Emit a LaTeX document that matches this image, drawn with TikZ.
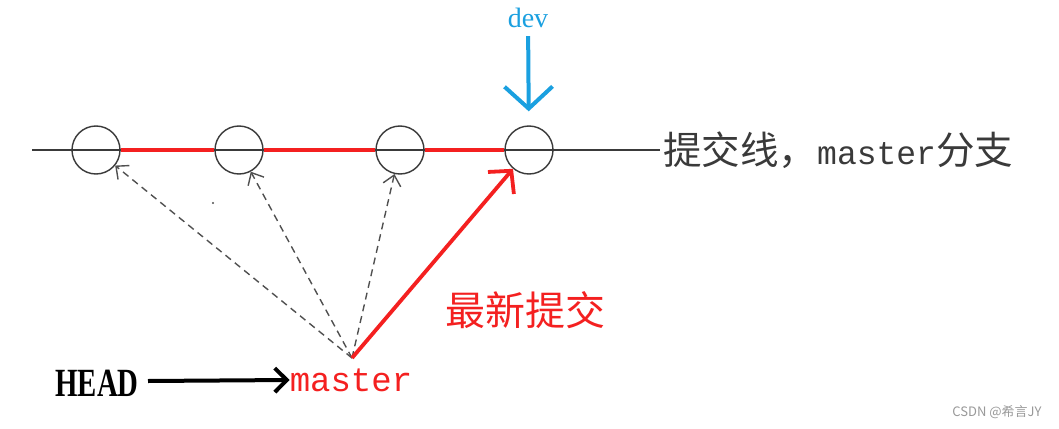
\documentclass[tikz,border=0pt]{standalone}
\usepackage{fontspec}
\setmainfont{Liberation Serif}
\newfontfamily\cjk{Noto Sans CJK SC}
\newfontfamily\monof{Liberation Mono}
\usetikzlibrary{arrows.meta}
\definecolor{devblue}{HTML}{1AA0E0}
\definecolor{linegray}{HTML}{3A3A3A}
\definecolor{dashgray}{HTML}{505050}
\definecolor{myred}{HTML}{F42020}
\begin{document}
\begin{tikzpicture}[x=1pt,y=-1pt,
  commit/.style={circle,draw=linegray,line width=1.4pt,minimum size=48pt,inner sep=0pt},
  redseg/.style={myred,line width=3.6pt},
  dasharrow/.style={dashgray,line width=1.4pt,dash pattern=on 7pt off 5pt,
     -{Straight Barb[length=10pt,width=18pt]}},
  redarrow/.style={myred,line width=3.8pt,-{Straight Barb[length=16pt,width=34pt]}},
  headarrow/.style={black,line width=4pt,-{Straight Barb[length=12pt,width=24pt]}},
  devarrow/.style={devblue,line width=4pt,-{Straight Barb[length=22pt,width=48pt]}}
]
\useasboundingbox (0,0) rectangle (1059,428);
\fill[white] (0,0) rectangle (1059,428);

% commit line
\coordinate (L) at (32,150);
\coordinate (R) at (660,150);
\draw[linegray,line width=1.6pt] (L) -- (R);

\node[commit] (c1) at (96,150) {};
\node[commit] (c2) at (239,150) {};
\node[commit] (c3) at (400,150) {};
\node[commit] (c4) at (529,150) {};

\draw[redseg] (c1.east) -- (c2.west);
\draw[redseg] (c2.east) -- (c3.west);
\draw[redseg] (c3.east) -- (c4.west);

\node[anchor=west,inner sep=0pt,text=linegray] (lbl) at ([xshift=3pt]R)
  {{\cjk\fontsize{38.5}{42}\selectfont 提交线，}{\monof\fontsize{33}{36}\selectfont master}{\cjk\fontsize{38.5}{42}\selectfont 分支}};

% dev
\node[text=devblue,inner sep=0pt,font=\fontsize{28}{32}\selectfont] (dev) at (528,18) {dev};
\draw[devarrow,shorten <=8pt,shorten >=14pt] (dev) -- (c4);

% master and HEAD
\node[text=myred,inner sep=0pt,font=\monof\fontsize{34}{38}\selectfont] (master) at (351,380) {master};
\node[inner sep=0pt,font=\bfseries\fontsize{40}{44}\selectfont,xscale=0.72] (head) at (97,383) {HEAD};
\coordinate (src) at (352,358);
\draw[headarrow] (148,381) -- (master.west);

\draw[dasharrow] (src) -- (c1);
\draw[dasharrow] (src) -- (c2);
\draw[dasharrow] (src) -- (c3);
\draw[redarrow] (src) -- (c4);
\fill[dashgray] (213,203) circle (1.2pt);

\node[text=myred,inner sep=0pt,font=\cjk\fontsize{40}{44}\selectfont] (newest) at (525,310) {最新提交};

% watermark
\node[text=gray!80,inner sep=0pt,font=\cjk\fontsize{13}{15}\selectfont] (wm) at (997,412) {CSDN @希言JY};
\end{tikzpicture}
\end{document}
